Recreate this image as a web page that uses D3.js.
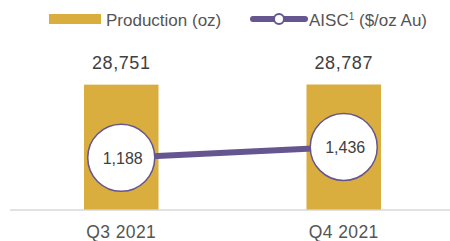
<!DOCTYPE html>
<html><head><meta charset="utf-8">
<script src="https://cdnjs.cloudflare.com/ajax/libs/d3/7.8.5/d3.min.js"></script>
<style>
html,body{margin:0;padding:0;background:#fff;}
svg{display:block;font-family:"Liberation Sans",Arial,sans-serif;}
</style></head>
<body>
<svg id="chart" width="450" height="241"></svg>
<script>
const categories = ["Q3 2021", "Q4 2021"];
const production = [28751, 28787];
const aisc = [1188, 1436];
const productionLabels = ["28,751", "28,787"];
const aiscLabels = ["1,188", "1,436"];
const legendLabels = ["Production (oz)", "AISC", "1", " ($/oz Au)"];

const gold = "#d9ae3e", purple = "#66568f", textCol = "#404040";
const svg = d3.select("#chart");
const baseY = 209.5, topY = 84.5;

const x = d3.scalePoint().domain(categories).range([10, 455]).padding(0.5);
const barW = 74.5;
const yP = d3.scaleLinear().domain([0, 28787]).range([baseY, topY]);
const yA = d3.scaleLinear().domain([0, 2870]).range([baseY, topY]);

// axis line
svg.append("line").attr("x1", 10).attr("x2", 450).attr("y1", baseY + 0.5).attr("y2", baseY + 0.5)
  .attr("stroke", "#d9d9d9").attr("stroke-width", 1.5);

// bars
svg.selectAll("rect.bar").data(production).join("rect").attr("class", "bar")
  .attr("x", (d, i) => x(categories[i]) - barW / 2).attr("width", barW)
  .attr("y", d => yP(d)).attr("height", d => baseY - yP(d)).attr("fill", gold);

// bar labels
svg.selectAll("text.pl").data(production).join("text").attr("class", "pl")
  .attr("x", (d, i) => x(categories[i])).attr("y", d => yP(d) - 16)
  .attr("text-anchor", "middle").attr("font-size", 18).attr("letter-spacing", 0.6).attr("fill", textCol)
  .text((d, i) => productionLabels[i]);

// line
const line = d3.line().x((d, i) => x(categories[i])).y(d => yA(d));
svg.append("path").datum(aisc).attr("d", line).attr("fill", "none")
  .attr("stroke", purple).attr("stroke-width", 6);

svg.selectAll("circle.pt").data(aisc).join("circle").attr("class", "pt")
  .attr("cx", (d, i) => x(categories[i])).attr("cy", d => yA(d)).attr("r", 33.5)
  .attr("fill", "#fff").attr("stroke", purple).attr("stroke-width", 1.5);

svg.selectAll("text.al").data(aisc).join("text").attr("class", "al")
  .attr("x", (d, i) => x(categories[i]) + 1.5).attr("y", d => yA(d)).attr("dy", "0.36em")
  .attr("text-anchor", "middle").attr("font-size", 16).attr("fill", textCol)
  .text((d, i) => aiscLabels[i]);

// category labels
svg.selectAll("text.cat").data(categories).join("text").attr("class", "cat")
  .attr("x", d => x(d)).attr("y", 237.5).attr("text-anchor", "middle")
  .attr("font-size", 17.5).attr("letter-spacing", 0.4).attr("fill", "#555").text(d => d);

// legend
svg.append("rect").attr("x", 49).attr("y", 14).attr("width", 52).attr("height", 10).attr("fill", gold);
svg.append("text").attr("x", 106).attr("y", 25.5).attr("font-size", 17).attr("fill", "#555").text(legendLabels[0]);
svg.append("line").attr("x1", 253).attr("x2", 305).attr("y1", 19).attr("y2", 19)
  .attr("stroke", purple).attr("stroke-width", 6).attr("stroke-linecap", "round");
svg.append("circle").attr("cx", 279).attr("cy", 19).attr("r", 5).attr("fill", "#fff")
  .attr("stroke", purple).attr("stroke-width", 2);
const lt = svg.append("text").attr("x", 309).attr("y", 25.5).attr("font-size", 17).attr("fill", "#555");
lt.append("tspan").text(legendLabels[1]);
lt.append("tspan").attr("font-size", 10).attr("dy", -6).text(legendLabels[2]);
lt.append("tspan").attr("dy", 6).text(legendLabels[3]);
</script>
</body></html>
